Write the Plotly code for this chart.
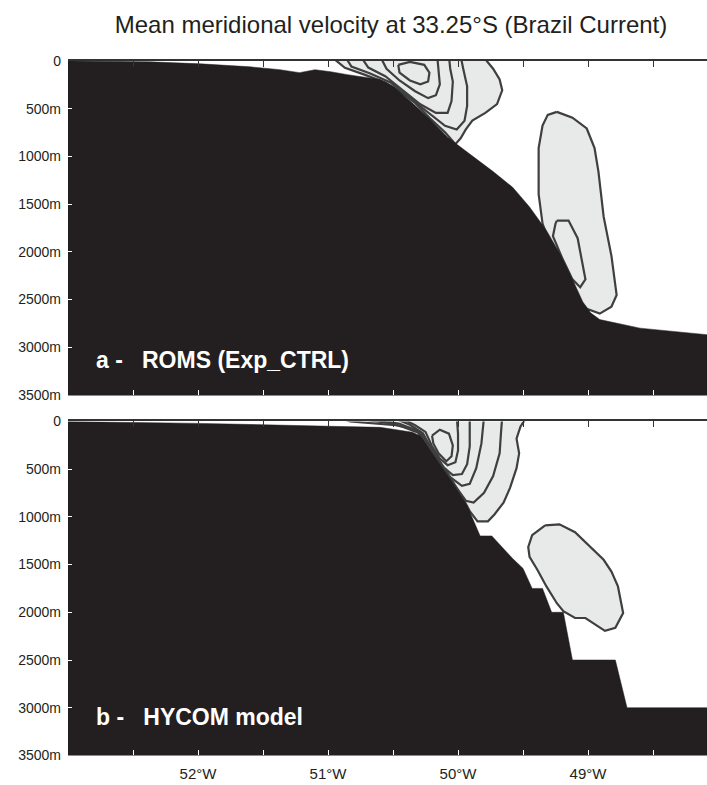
import plotly.graph_objects as go

# ---------------- data ----------------
lon_ticks = [-53.0, -52.5, -52.0, -51.5, -51.0, -50.5, -50.0, -49.5, -49.0, -48.5]
lon_labels = ["", "", "52°W", "", "51°W", "", "50°W", "", "49°W", ""]
depth_ticks = [0, 500, 1000, 1500, 2000, 2500, 3000, 3500]
depth_labels = ["0", "500m", "1000m", "1500m", "2000m", "2500m", "3000m", "3500m"]

# Panel a - ROMS (Exp_CTRL)
roms_bathy_lon = [-53.05, -52.37, -51.98, -51.60, -51.37, -51.22, -51.10, -50.98, -50.85, -50.60, -50.50,
                  -50.35, -50.22, -50.08, -49.93, -49.73, -49.58, -49.45, -49.32, -49.22, -49.12, -49.04,
                  -48.98, -48.91, -48.60, -48.00]
roms_bathy_depth = [0, 10, 31, 62, 92, 123, 92, 113, 144, 195, 267, 441, 606, 801, 955, 1160, 1324, 1530,
                    1776, 2012, 2289, 2525, 2640, 2710, 2800, 2880]

roms_jet_outer_lon = [-50.98, -49.81, -49.73, -49.68, -49.66, -49.70, -49.79, -49.89, -49.94, -49.98, -50.02,
                      -50.10, -50.22, -50.33, -50.45, -50.56, -50.72, -50.87, -50.98]
roms_jet_outer_depth = [-50, -50, 82, 195, 308, 452, 544, 626, 718, 811, 872, 749, 595, 441, 318, 226, 144,
                        72, -50]
roms_jet_u3_lon = [-50.87, -50.82, -50.68, -50.52, -50.37, -50.23, -50.10, -50.01, -49.95, -49.93, -49.93,
                   -49.96, -49.98]
roms_jet_u3_depth = [-50, 60, 130, 225, 390, 545, 680, 718, 626, 472, 267, 82, -50]
roms_jet_u2_lon = [-50.75, -50.69, -50.56, -50.43, -50.29, -50.17, -50.08, -50.05, -50.04, -50.06, -50.07]
roms_jet_u2_depth = [-50, 70, 160, 300, 455, 545, 544, 421, 216, 82, -50]
roms_jet_u1_lon = [-50.60, -50.55, -50.45, -50.33, -50.23, -50.17, -50.14, -50.15, -50.16]
roms_jet_u1_depth = [-50, 82, 205, 318, 390, 359, 246, 103, -50]
roms_jet_core_lon = [-50.46, -50.37, -50.26, -50.22, -50.23, -50.29, -50.37, -50.45, -50.46]
roms_jet_core_depth = [41, 10, 41, 123, 216, 246, 205, 123, 41]

roms_deep_outer_lon = [-49.24, -49.12, -49.01, -48.95, -48.92, -48.88, -48.82, -48.78, -48.82, -48.91, -49.01,
                       -49.08, -49.22, -49.35, -49.38, -49.38, -49.35, -49.31, -49.24]
roms_deep_outer_depth = [534, 595, 708, 914, 1160, 1632, 2043, 2453, 2576, 2648, 2597, 2494, 2186, 1704, 1396,
                         914, 677, 565, 534]
roms_deep_inner_lon = [-49.24, -49.15, -49.08, -49.04, -49.02, -49.06, -49.12, -49.20, -49.27, -49.25, -49.24]
roms_deep_inner_depth = [1673, 1673, 1858, 2145, 2289, 2371, 2289, 2063, 1837, 1704, 1673]

# Panel b - HYCOM model
hycom_bathy_lon = [-53.05, -51.98, -50.98, -50.60, -50.35, -50.29, -50.16, -50.04, -49.93, -49.83, -49.74,
                   -49.58, -49.50, -49.43, -49.35, -49.28, -49.19, -49.12, -48.79, -48.70, -48.00]
hycom_bathy_depth = [0, 21, 51, 62, 113, 154, 411, 647, 883, 1200, 1200, 1437, 1540, 1750, 1750, 2000, 2000,
                     2500, 2500, 3000, 3000]

hycom_jet_outer_lon = [-50.93, -49.47, -49.52, -49.55, -49.53, -49.55, -49.60, -49.65, -49.72, -49.77, -49.85,
                       -49.91, -49.98, -50.06, -50.14, -50.22, -50.29, -50.37, -50.48, -50.68, -50.83, -50.93]
hycom_jet_outer_depth = [-50, -50, 56, 180, 335, 490, 696, 851, 975, 1047, 1047, 940, 760, 590, 420, 245, 125,
                         70, 40, 20, 0, -50]
hycom_jet_u4_lon = [-50.87, -50.48, -50.31, -50.16, -50.05, -49.94, -49.88, -49.80, -49.73, -49.68, -49.67, -49.66]
hycom_jet_u4_depth = [-50, 30, 115, 400, 625, 831, 851, 748, 572, 335, 128, -50]
hycom_jet_u3_lon = [-50.75, -50.45, -50.29, -50.18, -50.06, -49.97, -49.91, -49.86, -49.82, -49.81, -49.80]
hycom_jet_u3_depth = [-50, 25, 110, 360, 585, 676, 655, 490, 231, 76, -50]
hycom_jet_u2_lon = [-50.52, -50.37, -50.27, -50.19, -50.12, -50.04, -49.97, -49.93, -49.91, -49.91]
hycom_jet_u2_depth = [-50, 35, 125, 320, 470, 562, 552, 448, 262, -50]
hycom_jet_u1_lon = [-50.46, -50.33, -50.25, -50.20, -50.14, -50.08, -50.02, -50.00, -50.00, -50.01]
hycom_jet_u1_depth = [-50, 40, 110, 260, 390, 459, 428, 304, 128, -50]
hycom_jet_core_lon = [-50.20, -50.14, -50.07, -50.04, -50.05, -50.09, -50.15, -50.19, -50.20]
hycom_jet_core_depth = [149, 87, 128, 252, 366, 417, 335, 231, 149]

hycom_deep_lon = [-49.33, -49.22, -49.10, -48.98, -48.88, -48.82, -48.77, -48.73, -48.79, -48.87, -48.93,
                  -49.02, -49.10, -49.19, -49.24, -49.32, -49.39, -49.45, -49.46, -49.43, -49.33]
hycom_deep_depth = [1089, 1078, 1161, 1316, 1450, 1574, 1729, 2008, 2163, 2194, 2142, 2060, 2060, 1988, 1905,
                    1729, 1554, 1419, 1316, 1192, 1089]

# ---------------- styles ----------------
BLACK = "#231f20"
FILL = "#e8e9e9"
LINE = "#3f3f3f"
FONT = "Liberation Sans, Arial, sans-serif"

fig = go.Figure()


def filled(lon, dep, xa, ya):
    fig.add_trace(go.Scatter(x=lon, y=dep, mode="lines", fill="toself", fillcolor=FILL,
                             line=dict(color=LINE, width=2.2), xaxis=xa, yaxis=ya,
                             hoverinfo="skip", showlegend=False))


def line(lon, dep, xa, ya):
    fig.add_trace(go.Scatter(x=lon, y=dep, mode="lines", line=dict(color=LINE, width=2.2),
                             xaxis=xa, yaxis=ya, hoverinfo="skip", showlegend=False))


def bathy(lon, dep, xa, ya):
    xs = list(lon) + [lon[-1], lon[0]]
    ys = list(dep) + [3700, 3700]
    fig.add_trace(go.Scatter(x=xs, y=ys, mode="lines", fill="toself", fillcolor=BLACK,
                             line=dict(color=BLACK, width=0.5), xaxis=xa, yaxis=ya,
                             hoverinfo="skip", showlegend=False))


# panel a
filled(roms_jet_outer_lon, roms_jet_outer_depth, "x", "y")
filled(roms_deep_outer_lon, roms_deep_outer_depth, "x", "y")
line(roms_jet_u3_lon, roms_jet_u3_depth, "x", "y")
line(roms_jet_u2_lon, roms_jet_u2_depth, "x", "y")
line(roms_jet_u1_lon, roms_jet_u1_depth, "x", "y")
line(roms_jet_core_lon, roms_jet_core_depth, "x", "y")
line(roms_deep_inner_lon, roms_deep_inner_depth, "x", "y")
bathy(roms_bathy_lon, roms_bathy_depth, "x", "y")

# panel b
filled(hycom_jet_outer_lon, hycom_jet_outer_depth, "x2", "y2")
filled(hycom_deep_lon, hycom_deep_depth, "x2", "y2")
line(hycom_jet_u4_lon, hycom_jet_u4_depth, "x2", "y2")
line(hycom_jet_u3_lon, hycom_jet_u3_depth, "x2", "y2")
line(hycom_jet_u2_lon, hycom_jet_u2_depth, "x2", "y2")
line(hycom_jet_u1_lon, hycom_jet_u1_depth, "x2", "y2")
line(hycom_jet_core_lon, hycom_jet_core_depth, "x2", "y2")
bathy(hycom_bathy_lon, hycom_bathy_depth, "x2", "y2")

# empty traces so the top (mirror) axes exist
fig.add_trace(go.Scatter(x=[], y=[], xaxis="x3", yaxis="y", showlegend=False))
fig.add_trace(go.Scatter(x=[], y=[], xaxis="x4", yaxis="y2", showlegend=False))

XR = [-53.0, -48.085]
bottom_axis = dict(range=XR, tickvals=lon_ticks, ticks="inside", ticklen=5, tickwidth=1,
                   tickcolor="white", showgrid=False, zeroline=False, showline=True,
                   linecolor="#8a8a8a", linewidth=1, fixedrange=True)
top_axis = dict(range=XR, tickvals=lon_ticks, ticks="inside", ticklen=6, tickwidth=1,
                tickcolor="#333333", showgrid=False, zeroline=False, showline=True,
                linecolor="#333333", linewidth=2, showticklabels=False, side="top")
y_axis = dict(range=[3500, 0], tickvals=depth_ticks, ticktext=depth_labels, ticks="inside",
              ticklen=4, tickwidth=1, tickcolor="white", showgrid=False, zeroline=False,
              showline=False, tickfont=dict(family=FONT, size=14, color=BLACK),
              ticklabelstandoff=6)

fig.update_layout(
    width=707, height=785,
    margin=dict(l=68, r=0, t=0, b=0),
    paper_bgcolor="white", plot_bgcolor="white",
    font=dict(family=FONT, color=BLACK),
    title=dict(text="Mean meridional velocity at 33.25°S (Brazil Current)",
               x=391 / 707, xref="container", xanchor="center",
               y=1 - 25 / 785, yref="container", yanchor="middle",
               font=dict(family=FONT, size=24, color=BLACK)),
    xaxis=dict(domain=[0, 1], anchor="y", showticklabels=False, **bottom_axis),
    xaxis2=dict(domain=[0, 1], anchor="y2", ticktext=lon_labels, showticklabels=True,
                tickfont=dict(family=FONT, size=15, color=BLACK), ticklabelstandoff=5,
                **bottom_axis),
    xaxis3=dict(overlaying="x", anchor="y", **top_axis),
    xaxis4=dict(overlaying="x2", anchor="y2", **top_axis),
    yaxis=dict(domain=[1 - 395 / 785, 1 - 54 / 785], anchor="x", **y_axis),
    yaxis2=dict(domain=[1 - 763 / 785, 1 - 422 / 785], anchor="x2", **y_axis),
    annotations=[
        dict(text="<b>a -\u00a0\u00a0\u00a0ROMS (Exp_CTRL)</b>", xref="paper", yref="paper",
             x=(94 - 68) / 639, y=1 - 359 / 785, xanchor="left", yanchor="middle",
             showarrow=False, font=dict(family=FONT, size=23, color="white")),
        dict(text="<b>b -\u00a0\u00a0\u00a0HYCOM model</b>", xref="paper", yref="paper",
             x=(94 - 68) / 639, y=1 - 724 / 785, xanchor="left", yanchor="middle",
             showarrow=False, font=dict(family=FONT, size=23, color="white")),
    ],
)

fig.write_html("out.html")
